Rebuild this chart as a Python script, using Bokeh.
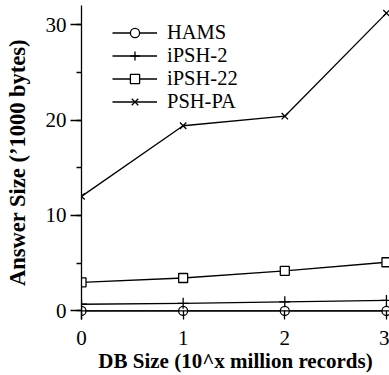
from bokeh.plotting import figure
from bokeh.models import Range1d, SingleIntervalTicker, FixedTicker, Legend, LegendItem, Span
from bokeh.embed import file_html
from bokeh.resources import INLINE

# Database size exponent (10^x million records)
db_size = [0, 1, 2, 3]

# Answer size in thousands of bytes
hams = [0.0, 0.0, 0.0, 0.0]
ipsh_2 = [0.7, 0.8, 0.95, 1.1]
ipsh_22 = [3.0, 3.45, 4.2, 5.1]
psh_pa = [12.0, 19.4, 20.4, 31.2]

x_ticks = [0, 1, 2, 3]

SERIF = "'Liberation Serif', 'Times New Roman', serif"

p = figure(width=389, height=375, output_backend="svg", toolbar_location=None,
           x_range=Range1d(0, 3.03), y_range=Range1d(-0.9, 32),
           min_border_left=81, min_border_right=0, min_border_top=5,
           min_border_bottom=56)
p.outline_line_color = None
p.grid.grid_line_color = None
p.background_fill_color = "white"
p.border_fill_color = "white"

LW = 1.3

# horizontal axis line drawn at y = 0; ticks rise from the frame edge to it
p.add_layout(Span(location=0, dimension="width", line_color="black", line_width=LW))

xa = p.xaxis[0]
xa.ticker = FixedTicker(ticks=x_ticks)
xa.axis_line_color = None
xa.minor_tick_line_color = None
xa.major_tick_in = 9
xa.major_tick_out = 0
xa.major_label_standoff = 11
xa.axis_label = "DB Size (10^x million records)"
xa.axis_label_text_font = SERIF
xa.axis_label_text_font_style = "bold"
xa.axis_label_text_font_size = "21px"
xa.axis_label_standoff = 1
xa.major_label_text_font = SERIF
xa.major_label_text_font_size = "21px"

ya = p.yaxis[0]
ya.ticker = SingleIntervalTicker(interval=10, num_minor_ticks=2)
ya.axis_line_color = "black"
ya.major_tick_in = 0
ya.major_tick_out = 11
ya.minor_tick_in = 0
ya.minor_tick_out = 5
ya.major_label_standoff = 4
ya.axis_label = "Answer Size (’1000 bytes)"
ya.axis_label_text_font = SERIF
ya.axis_label_text_font_style = "bold"
ya.axis_label_text_font_size = "22.5px"
ya.axis_label_standoff = 13
ya.major_label_text_font = SERIF
ya.major_label_text_font_size = "21px"

for ax in (xa, ya):
    ax.axis_line_width = LW
    ax.major_tick_line_width = LW
    ax.minor_tick_line_width = LW
    ax.major_tick_line_color = "black"
    ax.major_label_text_color = "black"
    ax.axis_label_text_color = "black"

series = [
    ("HAMS", hams, "circle", 9),
    ("iPSH-2", ipsh_2, "cross", 11),
    ("iPSH-22", ipsh_22, "square", 9),
    ("PSH-PA", psh_pa, "x", 9),
]

items = []
for name, ys, marker, size in series:
    ln = p.line(db_size, ys, line_color="black", line_width=LW)
    mk = p.scatter(db_size, ys, marker=marker, size=size, line_color="black",
                   fill_color="white", line_width=LW)
    items.append(LegendItem(label=name, renderers=[ln, mk]))

legend = Legend(items=items, location=(31, 206), padding=0, margin=0, spacing=0,
                glyph_width=45, glyph_height=23, label_height=23,
                label_standoff=10, label_text_font=SERIF,
                label_text_font_size="20.5px", label_text_color="black",
                border_line_color=None, background_fill_alpha=0)
p.add_layout(legend, "center")

open("out.html", "w").write(file_html(p, INLINE))
